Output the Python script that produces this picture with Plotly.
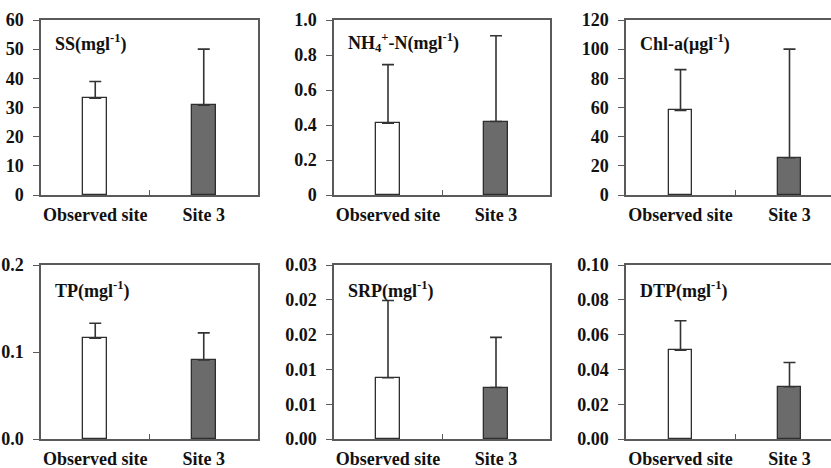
import plotly.graph_objects as go

categories = ["Observed site", "Site 3"]

ss_mean = [33.2, 30.8]
ss_sd = [5.7, 19.2]
nh4_mean = [0.41, 0.42]
nh4_sd = [0.335, 0.49]
chla_mean = [58.0, 25.5]
chla_sd = [28.0, 74.5]
tp_mean = [0.116, 0.091]
tp_sd = [0.017, 0.031]
srp_mean = [0.0088, 0.0074]
srp_sd = [0.0111, 0.0072]
dtp_mean = [0.051, 0.030]
dtp_sd = [0.017, 0.014]

titles = ["SS(mgl<sup>-1</sup>)", "NH<sub>4</sub><sup>+</sup>-N(mgl<sup>-1</sup>)",
          "Chl-a(μgl<sup>-1</sup>)", "TP(mgl<sup>-1</sup>)", "SRP(mgl<sup>-1</sup>)",
          "DTP(mgl<sup>-1</sup>)"]

ss_ticks = [0, 10, 20, 30, 40, 50, 60]
ss_ticktext = ["0", "10", "20", "30", "40", "50", "60"]
nh4_ticks = [0, 0.2, 0.4, 0.6, 0.8, 1.0]
nh4_ticktext = ["0", "0.2", "0.4", "0.6", "0.8", "1.0"]
chla_ticks = [0, 20, 40, 60, 80, 100, 120]
chla_ticktext = ["0", "20", "40", "60", "80", "100", "120"]
tp_ticks = [0, 0.1, 0.2]
tp_ticktext = ["0.0", "0.1", "0.2"]
srp_ticks = [0, 0.005, 0.010, 0.015, 0.020, 0.025]
srp_ticktext = ["0.00", "0.01", "0.01", "0.02", "0.02", "0.03"]
dtp_ticks = [0, 0.02, 0.04, 0.06, 0.08, 0.10]
dtp_ticktext = ["0.00", "0.02", "0.04", "0.06", "0.08", "0.10"]

panels = [
    (ss_mean, ss_sd, ss_ticks, ss_ticktext),
    (nh4_mean, nh4_sd, nh4_ticks, nh4_ticktext),
    (chla_mean, chla_sd, chla_ticks, chla_ticktext),
    (tp_mean, tp_sd, tp_ticks, tp_ticktext),
    (srp_mean, srp_sd, srp_ticks, srp_ticktext),
    (dtp_mean, dtp_sd, dtp_ticks, dtp_ticktext),
]

W, H = 831, 468
col_px = [(41, 258), (334, 550), (626, 831)]
row_px = [(20, 195), (265, 439)]
FONT = "'Liberation Serif', 'Times New Roman', serif"
LINE = "#5a5a5a"
FS = 18

fig = go.Figure()
layout = dict(width=W, height=H, margin=dict(l=0, r=0, t=0, b=0, autoexpand=False),
              paper_bgcolor="white", plot_bgcolor="white", showlegend=False,
              bargap=0.0)
annotations = []
xpos = list(range(len(categories)))

for i, (mean, sd, tv, tt) in enumerate(panels):
    r, c = divmod(i, 3)
    n = "" if i == 0 else str(i + 1)
    fig.add_trace(go.Bar(
        x=xpos, y=mean, width=0.22,
        marker=dict(color=["white", "#6b6b6b"], line=dict(color="#2e2e2e", width=1.3)),
        error_y=dict(type="data", array=sd, symmetric=False, arrayminus=[0] * len(sd),
                     color="#333333", thickness=1.6, width=6),
        xaxis="x" + n, yaxis="y" + n))
    x0, x1 = col_px[c]
    y0, y1 = row_px[r]
    xr = [-0.5, 1.5]
    if c == 2:
        xr = [-0.5, -0.5 + (x1 - x0) / 109.0]
    layout["xaxis" + n] = dict(
        domain=[x0 / W, x1 / W], anchor="y" + n, range=xr, automargin=False,
        tickvals=xpos, ticktext=categories, ticks="", showgrid=False, zeroline=False,
        showline=True, linecolor=LINE, linewidth=1.5, mirror=True, ticklabelstandoff=3,
        tickfont=dict(family=FONT, size=FS, color="#111", weight="bold"),
        minor=dict(tickvals=[0.5], ticks="inside", ticklen=5, tickcolor=LINE, tickwidth=1.3),
        fixedrange=True)
    layout["yaxis" + n] = dict(
        domain=[1 - y1 / H, 1 - y0 / H], anchor="x" + n, range=[tv[0], tv[-1]],
        automargin=False,
        tickvals=tv, ticktext=tt, ticks="outside", ticklen=6, tickcolor=LINE, tickwidth=1.3,
        ticklabelstandoff=6,
        showgrid=False, zeroline=False, showline=True, linecolor=LINE, linewidth=1.5,
        mirror=(c != 2),
        tickfont=dict(family=FONT, size=FS, color="#111", weight="bold"),
        fixedrange=True)
    annotations.append(dict(
        text=titles[i], xref="x" + n + " domain", yref="y" + n + " domain",
        x=0, y=1, xanchor="left", yanchor="middle", xshift=12,
        yshift=-23 if r == 0 else -25, showarrow=False,
        font=dict(family=FONT, size=FS, color="#111", weight="bold")))

layout["annotations"] = annotations
fig.update_layout(**layout)
fig.write_html("out.html", config={"displayModeBar": False},
               post_script="document.body.style.margin='0';document.body.style.overflow='hidden';")
